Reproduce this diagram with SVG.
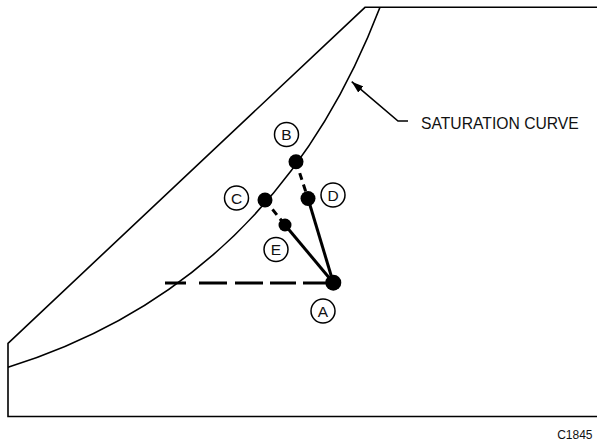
<svg xmlns="http://www.w3.org/2000/svg" width="597" height="443" viewBox="0 0 597 443">
<style>
.frame{fill:none;stroke:#000;stroke-width:1.6}
.curve{fill:none;stroke:#000;stroke-width:1.6}
.thick{fill:none;stroke:#000;stroke-width:3}
.dash{fill:none;stroke:#000;stroke-width:3;stroke-dasharray:7 5}
.dot{fill:#000}
.lbl{fill:#fff;stroke:#000;stroke-width:1.5}
.lt{font-family:"Liberation Sans",Arial,sans-serif;font-size:15.5px;fill:#111;text-anchor:middle}
.txt{font-family:"Liberation Sans",Arial,sans-serif;fill:#111}
</style>
<defs>
<marker id="ah" markerWidth="12" markerHeight="8" refX="12" refY="4" orient="auto" markerUnits="userSpaceOnUse">
<path d="M0,0 L12,4 L0,8 Z" fill="#000"/>
</marker>
</defs>
<g id="frame">
<path class="frame" d="M597,7.3 H365 L8,343.3 V416.5 H597"/>
<path id="saturation-curve" class="curve" d="M8,367.3 Q274,284 380,7.3"/>
</g>
<g id="connectors">
<path class="thick" d="M165,283 H186 M199,283 H227 M235,283 H263 M270,283 H296 M303,283 H333"/>
<line class="dash" x1="296" y1="161.7" x2="308" y2="198.5"/>
<line class="dash" x1="265" y1="200" x2="285" y2="225"/>
<line class="thick" x1="308" y1="198.5" x2="333.3" y2="282.7"/>
<line class="thick" x1="285" y1="225" x2="333.3" y2="282.7"/>
<path fill="none" stroke="#000" stroke-width="1.6" d="M408,121 H398 L351.7,81.7" marker-end="url(#ah)"/>
</g>
<g id="node-A">
<circle class="dot" cx="333.3" cy="282.7" r="8"/>
<circle class="lbl" cx="323" cy="311" r="12"/>
<text class="lt" x="323" y="316.5">A</text>
</g>
<g id="node-B">
<circle class="dot" cx="296" cy="161.7" r="7.5"/>
<circle class="lbl" cx="286.5" cy="134.5" r="12"/>
<text class="lt" x="286.5" y="140">B</text>
</g>
<g id="node-C">
<circle class="dot" cx="265" cy="200" r="7.5"/>
<circle class="lbl" cx="236.5" cy="198" r="12"/>
<text class="lt" x="236.5" y="203.5">C</text>
</g>
<g id="node-D">
<circle class="dot" cx="308" cy="198.5" r="7.5"/>
<circle class="lbl" cx="333" cy="195" r="12"/>
<text class="lt" x="333" y="200.5">D</text>
</g>
<g id="node-E">
<circle class="dot" cx="285" cy="225" r="6.5"/>
<circle class="lbl" cx="276" cy="249.5" r="12"/>
<text class="lt" x="276" y="255">E</text>
</g>
<text class="txt" x="421" y="129" font-size="15.7">SATURATION CURVE</text>
<text class="txt" x="592.5" y="439" font-size="12" text-anchor="end">C1845</text>
</svg>
